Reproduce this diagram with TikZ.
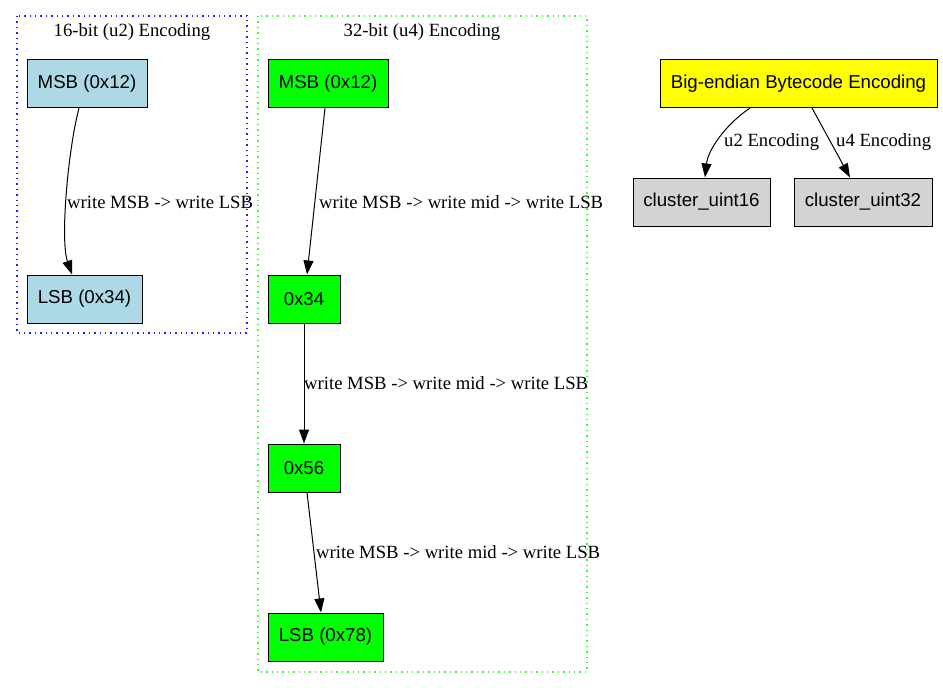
\documentclass[tikz,border=0pt]{standalone}
\usepackage{fontspec}
\setmainfont{Liberation Serif}
\newfontfamily\sansf{Liberation Sans}
\usetikzlibrary{arrows.meta}
\definecolor{lblue}{HTML}{ADD8E6}
\definecolor{lgreen}{HTML}{00FF00}
\definecolor{lyellow}{HTML}{FFFF00}
\definecolor{lgray}{HTML}{D3D3D3}
\definecolor{cblue}{HTML}{2222FF}
\definecolor{cgreen}{HTML}{33FF33}
\tikzset{
  box/.style={draw=black, line width=1pt, rectangle, minimum height=48pt, inner sep=0pt,
    font=\sansf\fontsize{18.67}{22}\selectfont, text=black},
  lbl/.style={anchor=west, inner sep=0pt, font=\fontsize{18.67}{22}\selectfont},
  ttl/.style={inner sep=0pt, font=\fontsize{18.67}{22}\selectfont},
  edge/.style={draw=black, line width=1pt, -{Triangle[length=14pt,width=10pt]}},
  clus/.style={line width=1.4pt, dash pattern=on 1.4pt off 4pt}
}
\begin{document}
\begin{tikzpicture}[x=1pt,y=-1pt]
\useasboundingbox (0,0) rectangle (943,688);
% clusters
\draw[clus, draw=cblue] (17,16) rectangle (247,333);
\node[ttl] (t1) at (132,32.5) {16-bit (u2) Encoding};
\draw[clus, draw=cgreen] (258,16) rectangle (587,672);
\node[ttl] (t2) at (422,32.5) {32-bit (u4) Encoding};
% 16-bit
\node[box, fill=lblue, minimum width=120pt] (m1) at (87,83.5) {MSB (0x12)};
\node[box, fill=lblue, minimum width=115pt] (l1) at (84.5,299) {LSB (0x34)};
\draw[edge] ([xshift=-8pt]m1.south) .. controls (68,150) and (60,240) .. ([xshift=-12.5pt]l1.north);
\node[lbl] (e1) at (67,202) {write MSB -> write LSB};
% 32-bit
\node[box, fill=lgreen, minimum width=120pt] (m2) at (328,83.5) {MSB (0x12)};
\node[box, fill=lgreen, minimum width=72pt] (b2) at (304,299) {0x34};
\node[box, fill=lgreen, minimum width=72pt] (b3) at (304,468) {0x56};
\node[box, fill=lgreen, minimum width=115pt] (l2) at (325.5,637) {LSB (0x78)};
\draw[edge] ([xshift=-3pt]m2.south) -- ([xshift=3pt]b2.north);
\node[lbl] (e2) at (319,202) {write MSB -> write mid -> write LSB};
\draw[edge] (b2.south) -- (b3.north);
\node[lbl] (e3) at (304,383) {write MSB -> write mid -> write LSB};
\draw[edge] ([xshift=3pt]b3.south) -- ([xshift=-4.5pt]l2.north);
\node[lbl] (e4) at (316,552) {write MSB -> write mid -> write LSB};
% top level
\node[box, fill=lyellow, minimum width=277pt] (be) at (798.5,83.5) {Big-endian Bytecode Encoding};
\node[box, fill=lgray, minimum width=137pt] (c16) at (701.5,202) {cluster\_uint16};
\node[box, fill=lgray, minimum width=138pt] (c32) at (863,202) {cluster\_uint32};
\draw[edge] ([xshift=-48.5pt]be.south) .. controls (725,125) and (708,150) .. ([xshift=3.5pt]c16.north);
\node[lbl] (e5) at (724,142) {u2 Encoding};
\draw[edge] ([xshift=13.5pt]be.south) -- ([xshift=-13pt]c32.north);
\node[lbl] (e6) at (836,142) {u4 Encoding};
\end{tikzpicture}
\end{document}
